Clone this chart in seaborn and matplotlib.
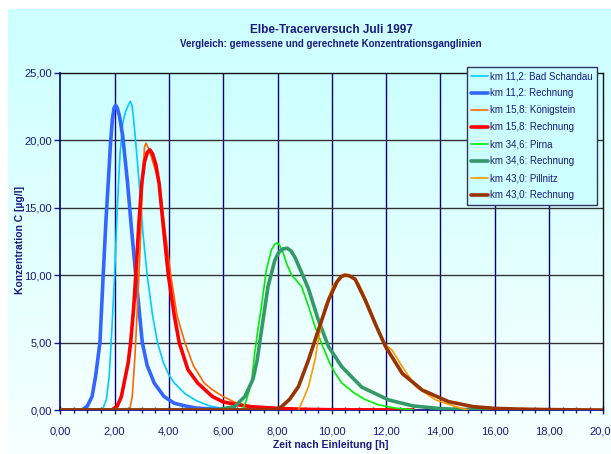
import numpy as np
import pandas as pd
import matplotlib
matplotlib.use("Agg")
import matplotlib.pyplot as plt
from matplotlib.ticker import MultipleLocator, FuncFormatter
import seaborn as sns

# ---------------- data ----------------
t_schandau = [1.55, 1.7, 1.8, 1.9, 2.0, 2.1, 2.2, 2.3, 2.4, 2.5, 2.58, 2.64, 2.7, 2.78, 2.9, 3.05, 3.2,
              3.4, 3.58, 3.8, 4.0, 4.2, 4.6, 5.0, 5.5, 6.0, 7.0]
c_schandau = [0.0, 0.8, 2.5, 6.0, 10.0, 15.0, 19.0, 21.3, 22.1, 22.6, 22.9, 22.6, 21.6, 19.8, 17.0, 13.0,
              10.0, 7.0, 5.0, 3.5, 2.6, 2.0, 1.2, 0.7, 0.3, 0.1, 0.0]

t_schandau_r = [0.0, 0.8, 1.0, 1.17, 1.3, 1.46, 1.58, 1.68, 1.77, 1.85, 1.92, 1.98, 2.04, 2.1, 2.18,
                2.3, 2.47, 2.62, 2.78, 2.9, 3.02, 3.2, 3.46, 3.82, 4.2, 4.6, 5.0, 5.5, 6.0, 7.0]
c_schandau_r = [0.0, 0.0, 0.3, 1.0, 2.5, 5.0, 10.0, 14.0, 17.0, 19.8, 21.6, 22.4, 22.6, 22.4, 21.8,
                20.3, 17.0, 13.5, 10.0, 7.5, 5.0, 3.3, 2.0, 1.0, 0.5, 0.3, 0.15, 0.08, 0.03, 0.0]

t_koenig = [2.55, 2.65, 2.75, 2.85, 2.94, 3.02, 3.1, 3.16, 3.25, 3.35, 3.5, 3.67, 3.85, 4.07, 4.3, 4.59,
            4.9, 5.3, 5.6, 6.0, 6.5, 7.0, 7.5, 8.0]
c_koenig = [0.0, 1.0, 4.0, 8.0, 12.0, 16.5, 19.5, 19.8, 19.4, 18.8, 17.8, 16.5, 13.5, 10.0, 7.0, 5.0,
            3.3, 2.0, 1.5, 1.0, 0.5, 0.3, 0.1, 0.0]

t_koenig_r = [0.0, 1.9, 2.1, 2.25, 2.35, 2.5, 2.59, 2.7, 2.78, 2.9, 3.0, 3.1, 3.2, 3.3, 3.4, 3.52, 3.64,
              3.8, 3.98, 4.2, 4.38, 4.7, 5.06, 5.6, 6.0, 6.5, 7.0, 8.0, 9.0, 10.0, 13.0]
c_koenig_r = [0.0, 0.0, 0.3, 1.0, 2.0, 3.5, 5.0, 7.5, 10.0, 14.0, 16.8, 18.4, 19.1, 19.3, 19.0, 18.2, 16.8,
              13.5, 10.0, 7.0, 5.0, 3.0, 2.0, 1.0, 0.6, 0.4, 0.25, 0.12, 0.05, 0.02, 0.0]

t_pirna = [6.7, 6.85, 7.04, 7.16, 7.28, 7.41, 7.59, 7.78, 7.9, 8.0, 8.08, 8.2, 8.33, 8.52, 8.7, 8.89,
           9.14, 9.38, 9.63, 9.9, 10.1, 10.37, 10.8, 11.2, 11.7, 12.3, 13.0]
c_pirna = [0.0, 0.7, 2.0, 4.2, 6.0, 7.7, 10.4, 11.9, 12.3, 12.4, 12.2, 11.7, 10.9, 10.0, 9.6, 9.15,
           7.7, 6.2, 4.9, 3.6, 2.8, 2.0, 1.3, 0.8, 0.4, 0.15, 0.0]

t_pirna_r = [0.0, 5.8, 6.0, 6.42, 6.8, 7.1, 7.25, 7.41, 7.65, 7.9, 8.05, 8.2, 8.36, 8.5, 8.65, 8.8,
             8.95, 9.14, 9.5, 9.88, 10.37, 11.1, 12.1, 13.0, 14.0, 15.0, 16.0]
c_pirna_r = [0.0, 0.0, 0.1, 0.25, 1.0, 2.3, 3.7, 5.9, 9.15, 11.1, 11.7, 11.95, 12.0, 11.8, 11.3, 10.6,
             9.9, 9.0, 6.7, 4.7, 3.2, 1.7, 0.74, 0.3, 0.1, 0.03, 0.0]

t_pillnitz = [8.77, 8.95, 9.14, 9.38, 9.5, 9.75, 10.06, 10.3, 10.49, 10.7, 10.99, 11.48, 11.85, 12.0,
              12.22, 12.6, 13.1, 13.83, 14.57, 15.0]
c_pillnitz = [0.0, 0.8, 1.73, 3.7, 5.2, 7.67, 9.27, 9.9, 10.1, 9.9, 9.4, 7.17, 5.2, 4.8, 4.45, 3.2,
              1.73, 0.74, 0.25, 0.0]

t_pillnitz_r = [0.0, 7.9, 8.15, 8.45, 8.77, 9.14, 9.5, 9.88, 10.19, 10.35, 10.49, 10.65, 10.86, 11.23,
                11.6, 11.98, 12.6, 13.33, 14.3, 15.2, 16.0, 17.0, 18.0, 19.0, 20.0]
c_pillnitz_r = [0.0, 0.0, 0.25, 0.8, 1.73, 3.7, 5.9, 8.16, 9.5, 9.9, 10.0, 9.95, 9.7, 8.16,
                6.4, 4.7, 2.7, 1.48, 0.62, 0.25, 0.12, 0.06, 0.03, 0.01, 0.0]

labels = ["km 11,2: Bad Schandau", "km 11,2: Rechnung",
          "km 15,8: Königstein", "km 15,8: Rechnung",
          "km 34,6: Pirna", "km 34,6: Rechnung",
          "km 43,0: Pillnitz", "km 43,0: Rechnung"]
series_t = [t_schandau, t_schandau_r, t_koenig, t_koenig_r, t_pirna, t_pirna_r, t_pillnitz, t_pillnitz_r]
series_c = [c_schandau, c_schandau_r, c_koenig, c_koenig_r, c_pirna, c_pirna_r, c_pillnitz, c_pillnitz_r]
colors = ["#00ccff", "#3366ff", "#ff6600", "#ff0000", "#00ee00", "#339966", "#ff9900", "#993300"]
widths = [1.2, 2.6, 1.2, 2.6, 1.2, 2.6, 1.2, 2.6]

x_ticks = [0, 2, 4, 6, 8, 10, 12, 14, 16, 18, 20]
y_ticks = [0, 5, 10, 15, 20, 25]

# ---------------- style ----------------
sns.set_theme(style="white")
plt.rcParams["font.family"] = ["Liberation Sans", "DejaVu Sans"]
plt.rcParams["lines.solid_joinstyle"] = "round"
plt.rcParams["lines.solid_capstyle"] = "round"
navy = "#1a1a80"

W, H = 611, 454
fig = plt.figure(figsize=(6.11, 4.54), dpi=100)
fig.patch.set_facecolor("white")

# background gradient (chart area)
bg = fig.add_axes([8 / W, 0, 1 - 8 / W, (H - 9) / H], zorder=-10)
grad = np.linspace(0, 1, 256).reshape(-1, 1)
cmap_bg = matplotlib.colors.LinearSegmentedColormap.from_list("bg", ["#ccffff", "#f6ffff"])
bg.imshow(grad, aspect="auto", cmap=cmap_bg, extent=[0, 1, 0, 1], origin="upper")
bg.set_axis_off()

ax = fig.add_axes([60.3 / W, (H - 410) / H, (603.3 - 60.3) / W, (410 - 73) / H])
ax.patch.set_alpha(0)
cmap_ax = matplotlib.colors.LinearSegmentedColormap.from_list("ax", ["#ccffff", "#f6ffff"])
ax.imshow(grad, aspect="auto", cmap=cmap_ax, extent=[0, 20, 0, 25], origin="upper", zorder=0)

for t, c, lab, col, lw in zip(series_t, series_c, labels, colors, widths):
    df = pd.DataFrame({"t": t, "c": c})
    sns.lineplot(data=df, x="t", y="c", ax=ax, color=col, lw=lw, label=lab,
                 sort=False, estimator=None, zorder=3)

ax.set_xlim(0, 20)
ax.set_ylim(0, 25)
ax.set_xticks(x_ticks)
ax.set_yticks(y_ticks)
ax.xaxis.set_minor_locator(MultipleLocator(0.5))
fmt = FuncFormatter(lambda v, p: f"{v:.2f}".replace(".", ","))
ax.xaxis.set_major_formatter(fmt)
ax.yaxis.set_major_formatter(fmt)

# grid
for xv in x_ticks[1:-1]:
    ax.axvline(xv, color="#000080", lw=1.0, zorder=1)
for yv in y_ticks[1:-1]:
    ax.axhline(yv, color="#333333", lw=1.0, zorder=1)

ax.tick_params(axis="x", which="major", direction="inout", length=6, width=1, color=navy,
               labelsize=8, labelcolor=navy, pad=9, bottom=True)
ax.tick_params(axis="x", which="minor", direction="inout", length=5, width=1, color=navy, bottom=True)
ax.tick_params(axis="y", which="major", direction="out", length=4, width=1, color=navy,
               labelsize=8, labelcolor=navy, pad=2, left=True)

for side in ["left", "bottom"]:
    ax.spines[side].set_color("#000080")
    ax.spines[side].set_linewidth(1.2)
for side in ["top", "right"]:
    ax.spines[side].set_color("#111111")
    ax.spines[side].set_linewidth(1.0)

ax.set_xlabel("Zeit nach Einleitung [h]", fontsize=7.5, fontweight="bold", color=navy)
ax.xaxis.set_label_coords((331 - 60.3) / 543, -(445 - 410) / 337)
ax.xaxis.label.set_va("center")
ax.set_ylabel("Konzentration C [µg/l]", fontsize=7.5, fontweight="bold", color=navy)
ax.yaxis.set_label_coords((20 - 60.3) / 543, (410 - 240) / 337)
ax.yaxis.label.set_va("center")

fig.text(331 / W, 1 - 30 / H, "Elbe-Tracerversuch Juli 1997", ha="center", va="center",
         fontsize=8.5, fontweight="bold", color=navy)
fig.text(331 / W, 1 - 44 / H, "Vergleich: gemessene und gerechnete Konzentrationsganglinien",
         ha="center", va="center", fontsize=7, fontweight="bold", color=navy)

leg = ax.legend(loc="upper left", bbox_to_anchor=((467 - 60.3) / 543, 1 + 6 / 337),
                fontsize=7, frameon=True, fancybox=False, handlelength=1.7, handletextpad=0.2,
                labelspacing=0.72, borderpad=0.45, borderaxespad=0)
leg.get_frame().set_facecolor("#ccffff")
leg.get_frame().set_edgecolor("#333366")
leg.get_frame().set_alpha(1)
leg.set_zorder(5)
for txt in leg.get_texts():
    txt.set_color(navy)

fig.savefig("out.png", dpi=100)
